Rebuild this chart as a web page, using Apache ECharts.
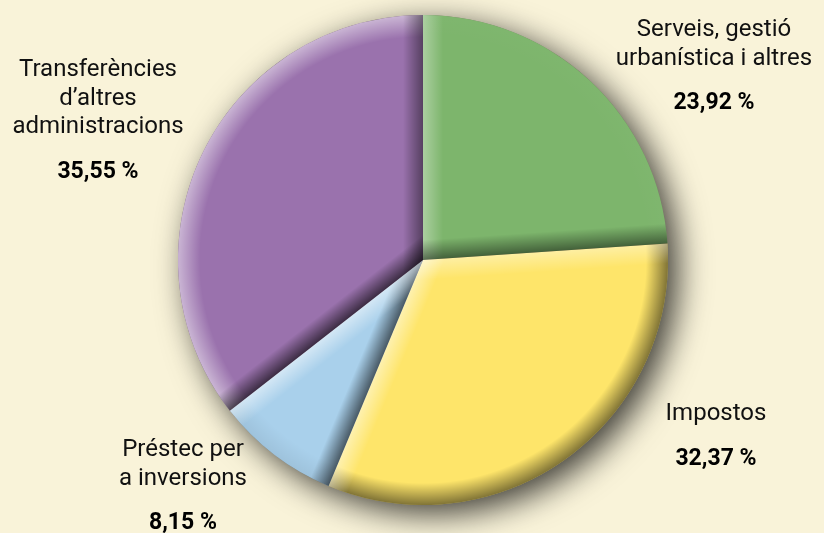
<!DOCTYPE html>
<html>
<head>
<meta charset="utf-8">
<script src="https://cdn.jsdelivr.net/npm/echarts@6/dist/echarts.min.js"></script>
<style>
  html, body { margin: 0; padding: 0; background: #f9f3d9; }
  #chart { width: 824px; height: 533px; }
</style>
</head>
<body>
<div id="chart"></div>
<script>
// dades del gràfic
const names = [
  ['Serveis, gestió', 'urbanística i altres'],
  ['Impostos'],
  ['Préstec per', 'a inversions'],
  ['Transferències', 'd\u2019altres', 'administracions']
]
const values = [23.92, 32.37, 8.15, 35.55]
const colors = ['#7db56c', '#fee56a', '#a9d0eb', '#9a72ad']
// posició de cada etiqueta (centre x, dalt y)
const labelPos = [[714, 16], [716, 400], [183, 436], [98, 56]]

const cx = 423, cy = 260, R = 245
const fmt = v => v.toFixed(2).replace('.', ',') + ' %'

// llum des de dalt a l'esquerra
const L = [-Math.SQRT1_2, -Math.SQRT1_2]
const rad = d => d * Math.PI / 180
const dir = d => [Math.cos(rad(d)), -Math.sin(rad(d))]
const shade = (d, k1, k2) => d > 0
  ? 'rgba(255,255,255,' + (k1 * d).toFixed(3) + ')'
  : 'rgba(0,0,0,' + (k2 * -d).toFixed(3) + ')'
const clear = c => c.replace(/,[\d.]+\)$/, ',0)')

// angles de cada porció
const total = values.reduce((a, b) => a + b, 0)
let angles = []
let acc = 90
values.forEach(v => {
  let a0 = acc
  acc -= v / total * 360
  angles.push([a0, acc])
})

// bisell al llarg d'una vora recta
function edgeBevel (inward, w) {
  let n = dir(inward)
  let d = -(n[0] * L[0] + n[1] * L[1])
  let c = shade(d, 0.5, 0.62)
  return {
    type: 'linear', global: true,
    x: cx, y: cy, x2: cx + n[0] * w, y2: cy + n[1] * w,
    colorStops: [{ offset: 0, color: c }, { offset: 1, color: clear(c) }]
  }
}

// vora exterior segons l'angle mitjà
function rimFill (i) {
  let mid = (angles[i][0] + angles[i][1]) / 2
  let n = dir(mid)
  let d = n[0] * L[0] + n[1] * L[1]
  let c = shade(d, 0.5, 0.5)
  return {
    type: 'radial', x: cx, y: cy, r: R, global: true,
    colorStops: [
      { offset: 0, color: clear(c) },
      { offset: 0.91, color: clear(c) },
      { offset: 1, color: c }
    ]
  }
}

const common = {
  type: 'pie',
  center: [cx, cy],
  radius: [0, R],
  startAngle: 90,
  clockwise: true,
  silent: true,
  label: { show: false },
  labelLine: { show: false },
  emphasis: { disabled: true }
}

let chart = echarts.init(document.getElementById('chart'))

let option = {
  backgroundColor: '#f9f3d9',
  animation: false,
  series: [
    // ombra
    Object.assign({}, common, {
      data: [{ value: total, itemStyle: {
        color: '#7a7466',
        shadowBlur: 32, shadowColor: 'rgba(0,0,0,0.75)', shadowOffsetX: 10, shadowOffsetY: 9
      } }]
    }),
    // porcions
    Object.assign({}, common, {
      label: {
        show: true,
        position: 'outside',
        align: 'center',
        overflow: 'none',
        width: 300,
        formatter: p => {
          let lines = names[p.dataIndex].map(t => '{n|' + t + '}')
          lines.push('{p|' + fmt(p.value) + '}')
          return lines.join('\n')
        },
        rich: {
          n: { fontFamily: 'Roboto', fontSize: 24, lineHeight: 28.5, color: '#111' },
          p: { fontFamily: 'Roboto', fontSize: 23, fontWeight: 'bold', lineHeight: 61, color: '#000' }
        }
      },
      labelLayout: p => ({
        x: labelPos[p.dataIndex][0],
        y: labelPos[p.dataIndex][1],
        align: 'center',
        verticalAlign: 'top'
      }),
      data: values.map((v, i) => ({
        value: v,
        name: names[i].join(' '),
        itemStyle: { color: colors[i] }
      }))
    }),
    // vora exterior
    Object.assign({}, common, {
      data: values.map((v, i) => ({ value: v, itemStyle: { color: rimFill(i) } }))
    }),
    // bisell vora inicial
    Object.assign({}, common, {
      data: values.map((v, i) => ({ value: v, itemStyle: { color: edgeBevel(angles[i][0] - 90, 20) } }))
    }),
    // bisell vora final
    Object.assign({}, common, {
      data: values.map((v, i) => ({ value: v, itemStyle: { color: edgeBevel(angles[i][1] + 90, 20) } }))
    })
  ]
}

chart.setOption(option)
</script>
</body>
</html>
